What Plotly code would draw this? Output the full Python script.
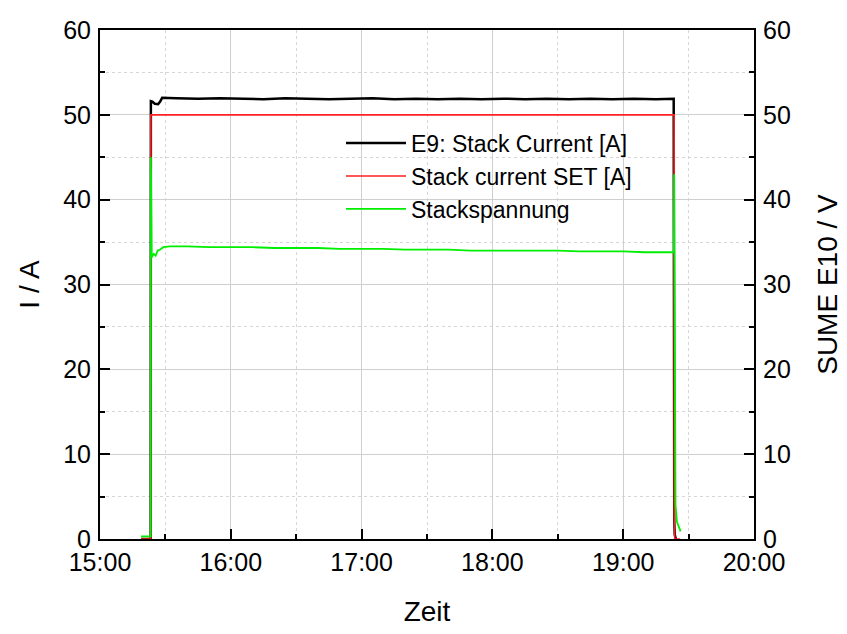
import plotly.graph_objects as go

DAY = "2015-06-01 "

# E9: Stack Current [A]
cur_times = ["15:18:50", "15:23:15", "15:23:20", "15:24:00", "15:25:10", "15:26:40", "15:27:40",
             "15:28:30", "15:35:00", "15:45:00", "15:55:00", "16:05:00", "16:15:00", "16:25:00",
             "16:35:00", "16:45:00", "16:55:00", "17:05:00", "17:15:00", "17:25:00", "17:35:00",
             "17:45:00", "17:55:00", "18:05:00", "18:15:00", "18:25:00", "18:35:00", "18:45:00",
             "18:55:00", "19:05:00", "19:15:00", "19:23:10", "19:23:25", "19:23:40", "19:24:10"]
cur_vals = [0.0, 0.0, 51.6, 51.55, 51.3, 51.25, 51.6,
            52.0, 51.95, 51.9, 51.95, 51.9, 51.85, 51.95,
            51.9, 51.85, 51.9, 51.95, 51.85, 51.9, 51.85,
            51.9, 51.85, 51.9, 51.85, 51.9, 51.85, 51.9,
            51.85, 51.9, 51.85, 51.9, 2.0, 0.5, 0.0]

# Stack current SET [A]
set_times = ["15:18:50", "15:23:18", "15:23:20", "19:23:22", "19:23:25", "19:23:40", "19:26:00"]
set_vals = [0.0, 0.0, 50.0, 50.0, 2.0, 0.0, 0.0]

# Stackspannung (SUME E10 / V)
volt_times = ["15:18:50", "15:23:15", "15:23:20", "15:23:45", "15:24:40", "15:25:30", "15:26:30",
              "15:27:30", "15:29:00", "15:32:00", "15:40:00", "15:50:00", "16:00:00", "16:10:00",
              "16:20:00", "16:30:00", "16:40:00", "16:50:00", "17:00:00", "17:10:00", "17:20:00",
              "17:30:00", "17:40:00", "17:50:00", "18:00:00", "18:10:00", "18:20:00", "18:30:00",
              "18:40:00", "18:50:00", "19:00:00", "19:10:00", "19:20:00", "19:23:15", "19:23:22",
              "19:23:40", "19:24:00", "19:24:40", "19:25:30", "19:26:20"]
volt_vals = [0.3, 0.3, 45.0, 33.2, 33.6, 33.4, 34.0,
             34.1, 34.4, 34.5, 34.5, 34.4, 34.4, 34.4,
             34.3, 34.3, 34.3, 34.2, 34.2, 34.2, 34.1,
             34.1, 34.1, 34.0, 34.0, 34.0, 34.0, 34.0,
             33.9, 33.9, 33.9, 33.8, 33.8, 33.8, 43.0,
             8.0, 4.0, 2.0, 1.3, 0.9]

y_ticks = [0, 10, 20, 30, 40, 50, 60]
x_range = ["15:00:00", "20:00:00"]

FONT = "Liberation Sans, Arial, sans-serif"
GRID = "#cfcfcf"
MINOR_GRID = "#d6d6d6"

fig = go.Figure()
fig.add_trace(go.Scatter(x=[DAY + t for t in cur_times], y=cur_vals, mode="lines",
                         name="E9: Stack Current [A]", line=dict(color="#000000", width=2.5)))
fig.add_trace(go.Scatter(x=[DAY + t for t in set_times], y=set_vals, mode="lines",
                         name="Stack current SET [A]", line=dict(color="#ff2020", width=1.6)))
fig.add_trace(go.Scatter(x=[DAY + t for t in volt_times], y=volt_vals, mode="lines",
                         name="Stackspannung", yaxis="y2", line=dict(color="#00ee00", width=1.8)))

fig.update_layout(
    width=847, height=634,
    margin=dict(l=92, r=101, t=22, b=103),
    paper_bgcolor="white", plot_bgcolor="white",
    font=dict(family=FONT, size=25, color="#000000"),
    showlegend=True,
    legend=dict(x=0.3685, y=0.820, xanchor="left", yanchor="top",
                bgcolor="rgba(0,0,0,0)", borderwidth=0,
                font=dict(family=FONT, size=23), tracegroupgap=0, itemwidth=60),
    xaxis=dict(
        type="date", range=[DAY + x_range[0], DAY + x_range[1]], automargin=False,
        tickformat="%H:%M", dtick=3600000, tick0=DAY + "15:00:00",
        ticks="inside", ticklen=10, tickwidth=1.5, tickcolor="#000",
        showline=True, linecolor="#000", linewidth=2, mirror=True,
        showgrid=True, gridcolor=GRID, gridwidth=1,
        minor=dict(dtick=1800000, ticks="inside", ticklen=5, tickcolor="#000",
                   showgrid=True, gridcolor=MINOR_GRID, griddash="dot", gridwidth=1),
        tickfont=dict(size=25), ticklabelstandoff=0,
        title=dict(text="Zeit", font=dict(size=28), standoff=26),
        zeroline=False,
    ),
    yaxis=dict(
        range=[0, 60], tickvals=y_ticks, automargin=False,
        ticks="inside", ticklen=10, tickwidth=1.5, tickcolor="#000",
        showline=True, linecolor="#000", linewidth=2,
        showgrid=True, gridcolor=GRID, gridwidth=1,
        minor=dict(dtick=5, ticks="inside", ticklen=5, tickcolor="#000",
                   showgrid=True, gridcolor=MINOR_GRID, griddash="dot", gridwidth=1),
        tickfont=dict(size=25), ticklabelstandoff=2,
        title=dict(text="I / A", font=dict(size=28), standoff=15),
        zeroline=False,
    ),
    yaxis2=dict(
        range=[0, 60], tickvals=y_ticks, overlaying="y", side="right", automargin=False,
        ticks="inside", ticklen=10, tickwidth=1.5, tickcolor="#000",
        showline=True, linecolor="#000", linewidth=2,
        showgrid=False,
        minor=dict(dtick=5, ticks="inside", ticklen=5, tickcolor="#000", showgrid=False),
        tickfont=dict(size=25), ticklabelstandoff=2,
        title=dict(text="SUME E10 / V", font=dict(size=28), standoff=28),
        zeroline=False,
    ),
)

fig.write_html("out.html")
